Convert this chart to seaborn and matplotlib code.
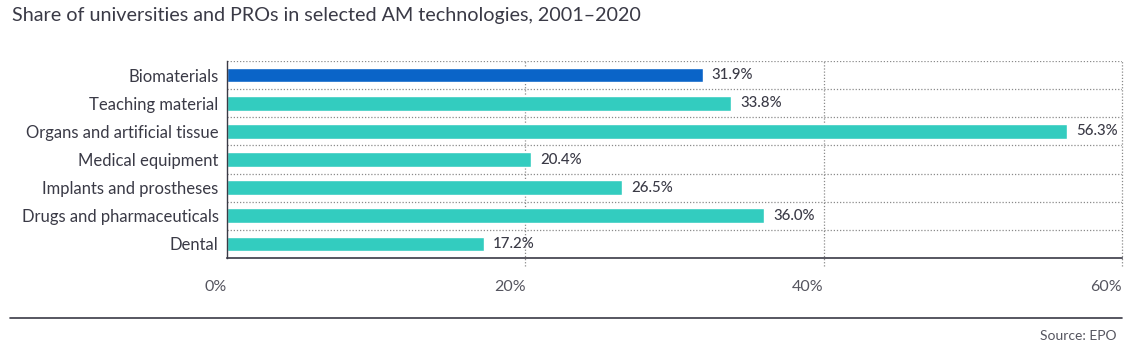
import matplotlib
matplotlib.use("Agg")
import matplotlib.pyplot as plt
import seaborn as sns
import pandas as pd

categories = ["Biomaterials", "Teaching material", "Organs and artificial tissue",
              "Medical equipment", "Implants and prostheses", "Drugs and pharmaceuticals", "Dental"]
values = [31.9, 33.8, 56.3, 20.4, 26.5, 36.0, 17.2]
highlight = ["Biomaterials"]
xticks = [0, 20, 40, 60]
xtick_labels = ["0%", "20%", "40%", "60%"]

df = pd.DataFrame({"category": categories, "value": values})
df["group"] = ["hl" if c in highlight else "base" for c in categories]

sns.set_theme(style="white")
plt.rcParams["font.family"] = ["Lato", "DejaVu Sans"]
text_col = "#3a3a46"

fig = plt.figure(figsize=(11.37, 3.53), dpi=100)
ax = fig.add_axes([0.1997, 0.2691, 0.9868 - 0.1997, 0.8272 - 0.2691])

sns.barplot(data=df, x="value", y="category", hue="group", order=categories,
            palette={"hl": "#0a64c8", "base": "#33ccbf"}, dodge=False,
            width=0.52, legend=False, ax=ax, saturation=1)

ax.set_xlim(0, 60)
ax.set_ylim(6.5, -0.5)
ax.set_xlabel("")
ax.set_ylabel("")

for k in range(7):
    ax.axhline(k - 0.5, color="#8a8a8a", lw=0.9, ls=(0, (1, 1.5)), zorder=0)
for t in xticks[1:]:
    ax.axvline(t, ymin=-0.04, ymax=1, color="#8a8a8a", lw=0.9, ls=(0, (1, 1.5)),
               zorder=0, clip_on=False)

for i, v in enumerate(values):
    ax.text(v + 0.6, i, f"{v:.1f}%", va="center", ha="left", fontsize=10.8,
            color=text_col, fontweight="medium")

ax.set_xticks(xticks)
ax.set_xticklabels(xtick_labels, fontsize=11.5, color="#55555f")
for lab in ax.get_xticklabels():
    lab.set_ha("right")
ax.tick_params(axis="x", length=0, pad=16)
ax.tick_params(axis="y", length=0, pad=6, labelsize=12, labelcolor=text_col)

for s in ["top", "right"]:
    ax.spines[s].set_visible(False)
ax.spines["left"].set_color("#3a3a46")
ax.spines["left"].set_linewidth(1.0)
ax.spines["bottom"].set_color("#3a3a46")
ax.spines["bottom"].set_linewidth(1.2)

fig.text(12 / 1137, 1 - 16 / 353, "Share of universities and PROs in selected AM technologies, 2001\u20132020",
         fontsize=14.2, color="#3a3a46", va="center", ha="left")
fig.add_artist(plt.Line2D([10 / 1137, 1122 / 1137], [1 - 318 / 353] * 2, color="#3a3a46", lw=1.2))
fig.text(1117 / 1137, 1 - 336 / 353, "Source: EPO", fontsize=10, color="#55555f",
         va="center", ha="right")

fig.savefig("out.png", dpi=100)
